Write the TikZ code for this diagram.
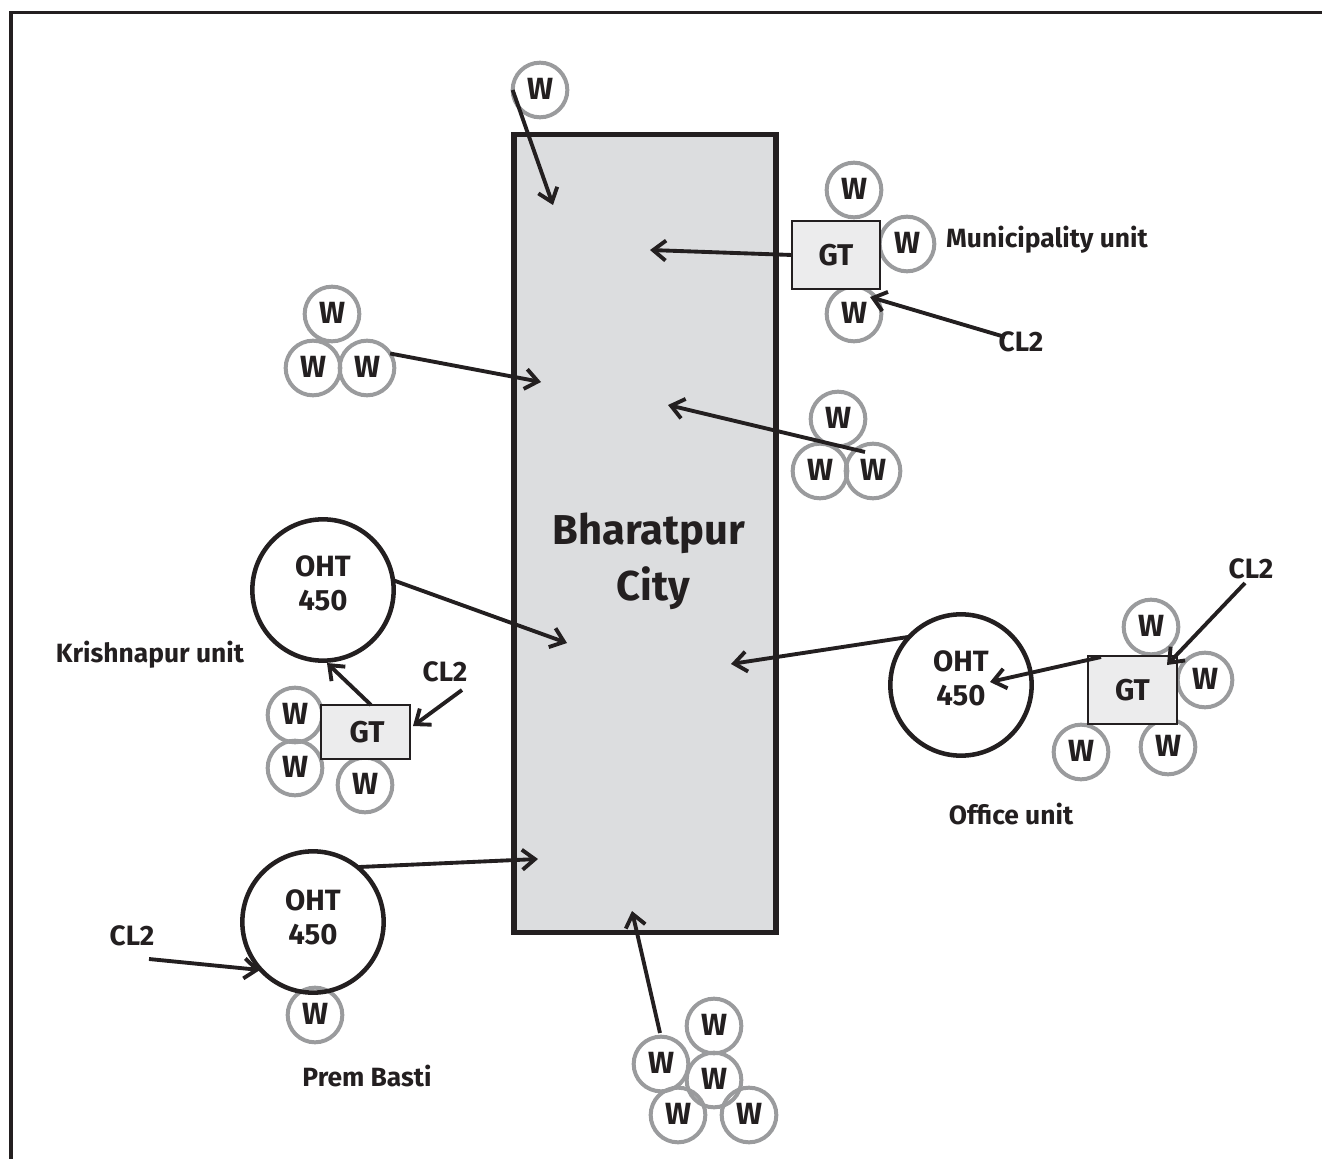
\documentclass[tikz,border=0pt]{standalone}
\usepackage{fontspec}
\setmainfont{Fira Sans}
\usetikzlibrary{arrows.meta}
\definecolor{ink}{HTML}{231F20}
\definecolor{ringgray}{HTML}{9A9B9D}
\definecolor{cityfill}{HTML}{DCDDDF}
\definecolor{gtfill}{HTML}{ECECED}
\newcommand{\ohtlabel}[1]{\raisebox{#1}[25pt][25pt]{\begin{tabular}{@{}c@{}}OHT\\[0pt]450\end{tabular}}}
\newcommand{\wlabel}{\raisebox{1pt}{W}}
\tikzset{
  wnode/.style={circle,draw=ringgray,line width=3pt,minimum size=41pt,inner sep=0pt,outer sep=0pt,text=ink,font=\bfseries\fontsize{23}{23}\selectfont},
  ohtnode/.style={circle,draw=ink,line width=3.4pt,minimum size=106pt,inner sep=0pt,outer sep=0pt,text=ink,align=center,font=\bfseries\fontsize{22}{25.5}\selectfont},
  gtnode/.style={rectangle,draw=ink,line width=1.8pt,fill=gtfill,inner sep=0pt,outer sep=0pt,text=ink,font=\bfseries\fontsize{22.5}{22}\selectfont},
  citybox/.style={rectangle,draw=ink,line width=4pt,fill=cityfill,inner sep=0pt,outer sep=0pt,minimum width=196.5pt,minimum height=598pt},
  citylabel/.style={text=ink,font=\bfseries\fontsize{31.3}{42}\selectfont},
  lbl/.style={text=ink,font=\bfseries\fontsize{19.8}{20}\selectfont},
  cllbl/.style={text=ink,font=\bfseries\fontsize{21}{21}\selectfont},
  flow/.style={draw=ink,line width=2.9pt,-{Straight Barb[length=9.5pt,width=15pt,line width=2.9pt]}},
  frameline/.style={draw=ink,line width=2.4pt},
}
\begin{document}
\begin{tikzpicture}[x=0.75pt,y=-0.75pt]
\useasboundingbox (0,0) rectangle (1322,1159);
\coordinate (fa) at (11,1159);
\coordinate (fb) at (11,12.5);
\coordinate (fc) at (1322,12.5);
\draw[frameline] (fa) -- (fb) -- (fc);

\node[citybox] (city) at (645,533.5) {};
\node[citylabel] (citytext) at (649,533) {Bharatpur};
\node[citylabel] (citytext2) at (653,588) {City};

% W rings
\node[wnode] (w0) at (540,90) {\wlabel};
\node[wnode] (m1) at (854,190) {\wlabel};
\node[wnode] (m2) at (907,244) {\wlabel};
\node[wnode] (m3) at (854,314) {\wlabel};
\node[wnode] (a1) at (332,314) {\wlabel};
\node[wnode] (a2) at (313,368) {\wlabel};
\node[wnode] (a3) at (367,368) {\wlabel};
\node[wnode] (b1) at (838,419) {\wlabel};
\node[wnode] (b2) at (820,471) {\wlabel};
\node[wnode] (b3) at (873,471) {\wlabel};
\node[wnode] (k1) at (295,715) {\wlabel};
\node[wnode] (k2) at (295,768) {\wlabel};
\node[wnode] (k3) at (365,785) {\wlabel};
\node[wnode] (o1) at (1151,627) {\wlabel};
\node[wnode] (o2) at (1205,680) {\wlabel};
\node[wnode] (o3) at (1081,752) {\wlabel};
\node[wnode] (o4) at (1168,747) {\wlabel};
\node[wnode] (p1) at (315,1015) {\wlabel};
\node[wnode] (s1) at (714,1026) {\wlabel};
\node[wnode] (s2) at (661,1064) {\wlabel};
\node[wnode] (s3) at (714,1080) {\wlabel};
\node[wnode] (s4) at (678,1115) {\wlabel};
\node[wnode] (s5) at (749,1115) {\wlabel};

% GT boxes
\node[gtnode,minimum width=66pt,minimum height=51pt] (gtm) at (836,255) {GT};
\node[gtnode,minimum width=66.5pt,minimum height=40.5pt] (gtk) at (365.5,732) {\hspace*{2.5pt}GT};
\node[gtnode,minimum width=66.5pt,minimum height=51pt] (gto) at (1132.5,690) {\raisebox{-1.5pt}{GT}};

% OHT
\node[ohtnode] (ohtk) at (323,590) {\ohtlabel{-3pt}};
\node[ohtnode] (ohto) at (961,685) {\ohtlabel{-3pt}};
\node[ohtnode] (ohtp) at (313,922) {\ohtlabel{-4.5pt}};

% labels
\node[lbl] (lm) at (1047,240) {Municipality unit};
\node[lbl] (lk) at (150,655) {Krishnapur unit};
\node[lbl] (lo) at (1011,814) {Office unit};
\node[lbl] (lp) at (367,1076) {Prem Basti};
\node[cllbl] (cm) at (1021,342) {CL2};
\node[cllbl] (ck) at (445,672) {CL2};
\node[cllbl] (co) at (1251,569) {CL2};
\node[cllbl] (cp) at (132,936) {CL2};

% free ends of the connectors
\coordinate (t0) at (553,205);
\coordinate (tm) at (650,250);
\coordinate (tma) at (870,297);
\coordinate (sma) at (1005,337);
\coordinate (ta) at (541,382);
\coordinate (tb) at (668,405);
\coordinate (sb) at (865,452);
\coordinate (tk) at (567,643);
\coordinate (tkg) at (327,663);
\coordinate (skg) at (371,705);
\coordinate (sck) at (462,690);
\coordinate (tck) at (413,726);
\coordinate (to) at (731,664);
\coordinate (tog) at (990,682);
\coordinate (sog) at (1101,657);
\coordinate (sco) at (1245,583);
\coordinate (tco) at (1167,665);
\coordinate (tp) at (538,859);
\coordinate (scp) at (149,959);
\coordinate (tcp) at (260,970);
\coordinate (ts) at (632,911);
\coordinate (ss) at (660,1033);

% connectors
\draw[flow] (w0.west) -- (t0);
\draw[flow] (gtm.west) -- (tm);
\draw[flow] (sma) -- (tma);
\draw[flow] (a3.32) -- (ta);
\draw[flow] (sb) -- (tb);
\draw[flow] (ohtk.8) -- (tk);
\draw[flow] (skg) -- (tkg);
\draw[flow] (sck) -- (tck);
\draw[flow] (ohto.137) -- (to);
\draw[flow] (sog) -- (tog);
\draw[flow] (sco) -- (tco);
\draw[flow] (ohtp.51) -- (tp);
\draw[flow] (scp) -- (tcp);
\draw[flow] (ss) -- (ts);
\end{tikzpicture}
\end{document}
